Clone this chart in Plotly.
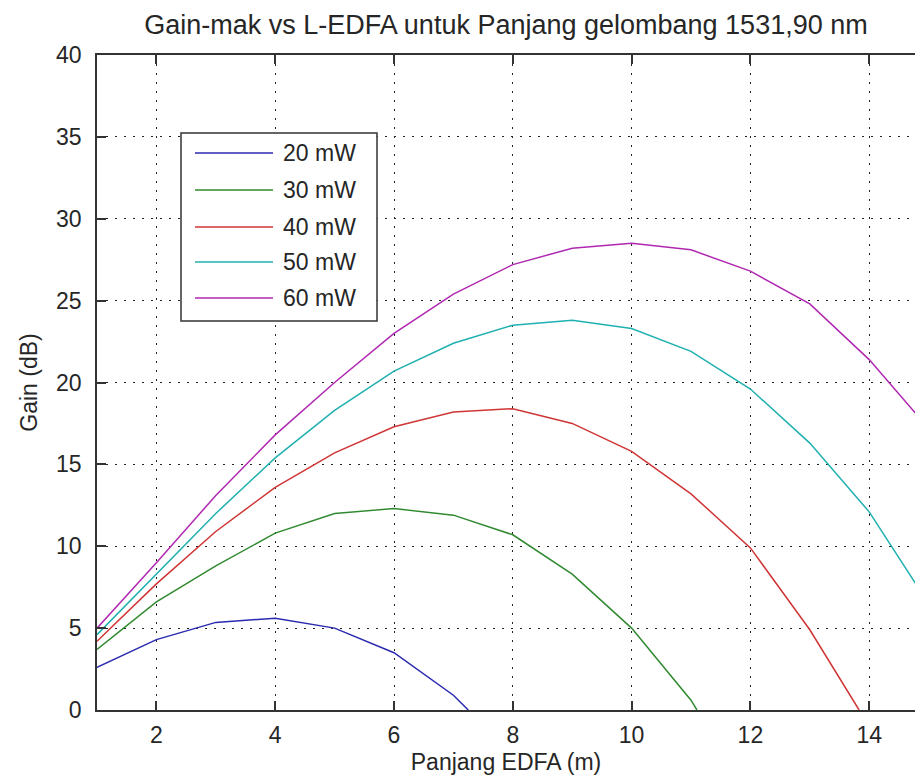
import plotly.graph_objects as go

# ---- data ----
series_names = ["20 mW", "30 mW", "40 mW", "50 mW", "60 mW"]

x_20 = [1, 2, 3, 4, 5, 6, 7, 7.25]
g_20 = [2.6, 4.3, 5.35, 5.6, 5.0, 3.5, 0.9, 0.0]

x_30 = [1, 2, 3, 4, 5, 6, 7, 8, 9, 10, 11, 11.1]
g_30 = [3.7, 6.6, 8.8, 10.8, 12.0, 12.3, 11.9, 10.7, 8.3, 5.0, 0.6, 0.0]

x_40 = [1, 2, 3, 4, 5, 6, 7, 8, 9, 10, 11, 12, 13, 13.83]
g_40 = [4.2, 7.7, 10.9, 13.6, 15.7, 17.3, 18.2, 18.4, 17.5, 15.8, 13.2, 9.9, 4.9, 0.0]

x_50 = [1, 2, 3, 4, 5, 6, 7, 8, 9, 10, 11, 12, 13, 14, 15]
g_50 = [4.6, 8.3, 12.0, 15.4, 18.3, 20.7, 22.4, 23.5, 23.8, 23.3, 21.9, 19.6, 16.3, 12.1, 6.5]

x_60 = [1, 2, 3, 4, 5, 6, 7, 8, 9, 10, 11, 12, 13, 14, 15]
g_60 = [5.0, 9.0, 13.1, 16.8, 20.0, 23.0, 25.4, 27.2, 28.2, 28.5, 28.1, 26.8, 24.8, 21.4, 17.2]

x_ticks = [2, 4, 6, 8, 10, 12, 14]
y_ticks = [0, 5, 10, 15, 20, 25, 30, 35, 40]

colors = ["#2a2ab0", "#2f8a2f", "#d03535", "#20b0b0", "#b028b0"]

xs = [x_20, x_30, x_40, x_50, x_60]
ys = [g_20, g_30, g_40, g_50, g_60]

# ---- layout geometry ----
W, H = 915, 782
L, R, T, B = 97, 0, 55, 72
PW, PH = W - L - R, H - T - B
FONT = "Liberation Sans, Arial, sans-serif"
TXT = "#262626"


def px_x(px):
    return (px - L) / PW


def px_y(py):
    return (H - B - py) / PH


fig = go.Figure()
for name, xv, yv, c in zip(series_names, xs, ys, colors):
    fig.add_trace(go.Scatter(x=xv, y=yv, mode="lines", name=name,
                             line=dict(color=c, width=1.5),
                             showlegend=False))

# custom MATLAB-style legend box
shapes = [dict(type="rect", xref="paper", yref="paper",
               x0=px_x(181), x1=px_x(377), y0=px_y(321), y1=px_y(133),
               line=dict(color="#333333", width=1.5), fillcolor="white",
               layer="above")]
annotations = []
legend_rows = [153, 190, 227, 262, 298]
for name, c, ry in zip(series_names, colors, legend_rows):
    shapes.append(dict(type="line", xref="paper", yref="paper",
                       x0=px_x(195), x1=px_x(273), y0=px_y(ry), y1=px_y(ry),
                       line=dict(color=c, width=1.5), layer="above"))
    annotations.append(dict(xref="paper", yref="paper", x=px_x(281), y=px_y(ry),
                            text=name, showarrow=False, xanchor="left",
                            yanchor="middle", font=dict(family=FONT, size=23, color=TXT)))

grid_dash = "2px,7px"
fig.update_layout(
    width=W, height=H,
    margin=dict(l=L, r=R, t=T, b=B, pad=0),
    paper_bgcolor="white", plot_bgcolor="white",
    font=dict(family=FONT, size=23, color=TXT),
    title=dict(text="Gain-mak vs L-EDFA untuk Panjang gelombang 1531,90 nm",
               x=0.5, xref="paper", xanchor="center",
               y=1 - 25 / H, yref="container", yanchor="middle",
               font=dict(family=FONT, size=27, color=TXT)),
    shapes=shapes,
    annotations=annotations,
    xaxis=dict(range=[1, 1 + PW / 59.4], tickvals=x_ticks,
               ticktext=[str(v) for v in x_ticks],
               ticks="inside", ticklen=9, tickwidth=1.5, tickcolor="#333333",
               showline=True, linecolor="#333333", linewidth=1.5, mirror="ticks",
               showgrid=True, gridcolor="#222222", gridwidth=1, griddash=grid_dash,
               zeroline=False, ticklabelstandoff=4,
               tickfont=dict(family=FONT, size=23, color=TXT),
               title=dict(text="Panjang EDFA (m)", standoff=7,
                          font=dict(family=FONT, size=23, color=TXT))),
    yaxis=dict(range=[0, 40], tickvals=y_ticks,
               ticks="inside", ticklen=9, tickwidth=1.5, tickcolor="#333333",
               showline=True, linecolor="#333333", linewidth=1.5, mirror=False,
               showgrid=True, gridcolor="#222222", gridwidth=1, griddash=grid_dash,
               zeroline=False, ticklabelstandoff=9,
               tickfont=dict(family=FONT, size=23, color=TXT),
               title=dict(text="Gain (dB)", standoff=12,
                          font=dict(family=FONT, size=23, color=TXT))),
)

fig.write_html("out.html")
